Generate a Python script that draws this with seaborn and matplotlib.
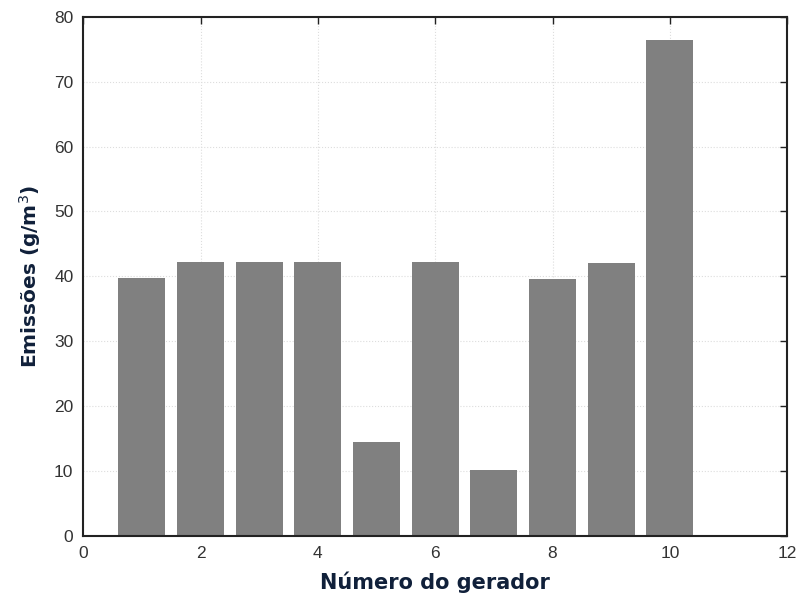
import numpy as np
import pandas as pd
import matplotlib
matplotlib.use("Agg")
import matplotlib.pyplot as plt
import seaborn as sns

gerador = [1, 2, 3, 4, 5, 6, 7, 8, 9, 10]
emissoes = [39.8, 42.2, 42.2, 42.2, 14.5, 42.2, 10.2, 39.6, 42.1, 76.5]

df = pd.DataFrame({"gerador": gerador, "emissoes": emissoes})

sns.set_style("white")
plt.rcParams["font.family"] = ["Liberation Sans", "DejaVu Sans"]

fig = plt.figure(figsize=(8, 6), dpi=100)
ax = fig.add_axes([0.104, 0.107, 0.88, 0.865])

sns.barplot(data=df, x="gerador", y="emissoes", native_scale=True,
            color="#808080", saturation=1, width=0.8, edgecolor="none", ax=ax)

ax.set_xlim(0, 12)
ax.set_ylim(0, 80)
ax.set_xticks(np.arange(0, 13, 2))
ax.set_yticks(np.arange(0, 81, 10))
ax.grid(True, color="#dddddd", linestyle=":", linewidth=0.8)
ax.set_axisbelow(True)

for s in ax.spines.values():
    s.set_color("#222222")
    s.set_linewidth(1.5)

ax.tick_params(direction="in", top=True, right=True, length=5, width=1,
               labelsize=12.5, colors="#222222", labelcolor="#333333", pad=7)
lab = dict(fontweight="bold", color="#10203a", family="DejaVu Sans")
ax.set_xlabel("Número do gerador", labelpad=8, fontsize=15, **lab)
ax.set_ylabel("Emissões (g/m$^3$)", labelpad=8, fontsize=14.5, **lab)

fig.savefig("out.png", dpi=100)
